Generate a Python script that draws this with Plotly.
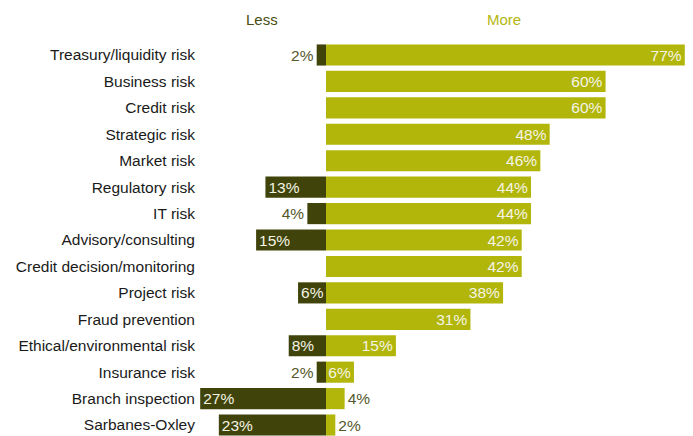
import plotly.graph_objects as go

categories = [
    "Treasury/liquidity risk", "Business risk", "Credit risk", "Strategic risk",
    "Market risk", "Regulatory risk", "IT risk", "Advisory/consulting",
    "Credit decision/monitoring", "Project risk", "Fraud prevention",
    "Ethical/environmental risk", "Insurance risk", "Branch inspection",
    "Sarbanes-Oxley",
]
less_pct = [2, None, None, None, None, 13, 4, 15, None, 6, None, 8, 2, 27, 23]
more_pct = [77, 60, 60, 48, 46, 44, 44, 42, 42, 38, 31, 15, 6, 4, 2]

DARK = "#41440a"
LIGHT = "#b2b60b"
IN_TXT = "#f4f4e6"
OUT_TXT = "#55572a"
FONT = "Liberation Sans, Arial, sans-serif"
FS = 15.5


def labels(vals):
    return [f"{v}%" if v is not None else "" for v in vals]


def positions(vals, cutoff):
    return ["inside" if (v is not None and v >= cutoff) else "outside" for v in vals]


fig = go.Figure()
fig.add_trace(go.Bar(
    y=categories, x=[-v if v is not None else None for v in less_pct],
    orientation="h", marker=dict(color=DARK, line=dict(width=0)),
    text=labels(less_pct), textposition=positions(less_pct, 6),
    insidetextanchor="end", constraintext="none", cliponaxis=False,
    insidetextfont=dict(color=IN_TXT, size=FS, family=FONT),
    outsidetextfont=dict(color=OUT_TXT, size=FS, family=FONT),
    hoverinfo="skip",
))
fig.add_trace(go.Bar(
    y=categories, x=more_pct,
    orientation="h", marker=dict(color=LIGHT, line=dict(width=0)),
    text=labels(more_pct), textposition=positions(more_pct, 6),
    insidetextanchor="end", constraintext="none", cliponaxis=False,
    insidetextfont=dict(color=IN_TXT, size=FS, family=FONT),
    outsidetextfont=dict(color=OUT_TXT, size=FS, family=FONT),
    hoverinfo="skip",
))

fig.add_annotation(x=-13.7, y=-1.36, xref="x", yref="y", text="Less",
                   showarrow=False, font=dict(color="#4b4d12", size=15, family=FONT))
fig.add_annotation(x=38.2, y=-1.36, xref="x", yref="y", text="More",
                   showarrow=False, font=dict(color="#b3b60f", size=15, family=FONT))

fig.update_layout(
    width=693, height=436,
    margin=dict(l=200, r=0, t=0, b=0),
    paper_bgcolor="white", plot_bgcolor="white",
    barmode="relative", bargap=0.2, showlegend=False,
    xaxis=dict(range=[-27.04, 78.76], visible=False, fixedrange=True),
    yaxis=dict(
        categoryorder="array", categoryarray=categories,
        range=[14.415, -2.081], showgrid=False, zeroline=False, showline=False,
        ticks="", ticklabelstandoff=4,
        tickfont=dict(color="#1a1a1a", size=FS, family=FONT),
    ),
)

fig.write_html("out.html")
